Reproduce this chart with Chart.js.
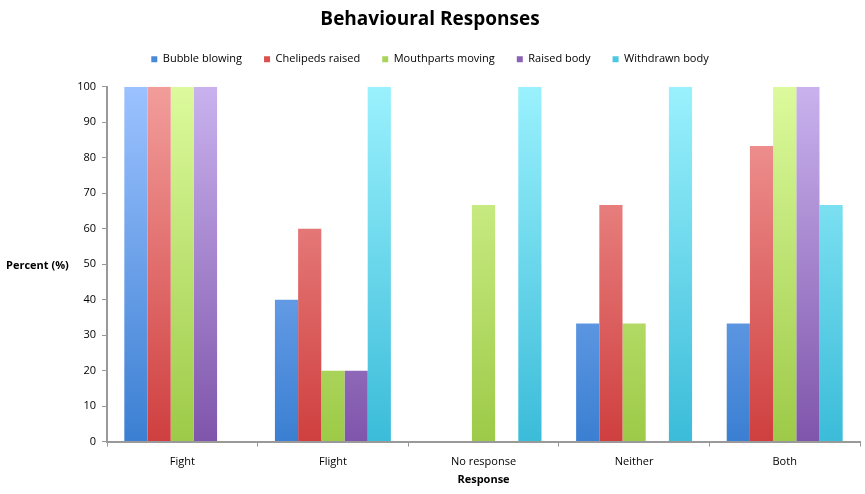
<!DOCTYPE html>
<html><head><meta charset="utf-8">
<script src="https://cdn.jsdelivr.net/npm/chart.js@4"></script>
<style>html,body{margin:0;padding:0;background:#fff}#wrap{width:865px;height:494px}</style>
</head><body><div id="wrap"><canvas id="c"></canvas></div>
<script>
const categories = ["Fight", "Flight", "No response", "Neither", "Both"];
const seriesNames = ["Bubble blowing", "Chelipeds raised", "Mouthparts moving", "Raised body", "Withdrawn body"];
const bubbleBlowing = [100, 40, 0, 33.3, 33.3];
const chelipedsRaised = [100, 60, 0, 66.7, 83.3];
const mouthpartsMoving = [100, 20, 66.7, 33.3, 100];
const raisedBody = [100, 20, 0, 0, 100];
const withdrawnBody = [0, 100, 100, 100, 66.7];
const yTicks = [0,10,20,30,40,50,60,70,80,90,100];

const palettes = [
  ["#3b7fd2", "#9cc2ff"],
  ["#cf3f3f", "#f29d9b"],
  ["#9dca48", "#dcfa9c"],
  ["#7f55ab", "#c9b2ee"],
  ["#3bbcd9", "#9af1fd"]
];
const legendCols = ["#4a88d8", "#dc5050", "#a8d45a", "#8a62b6", "#4cc8e2"];
const values = [bubbleBlowing, chelipedsRaised, mouthpartsMoving, raisedBody, withdrawnBody];

function grad(i){
  return (ctx) => {
    const ca = ctx.chart.chartArea;
    if (!ca) return palettes[i][0];
    const g = ctx.chart.ctx.createLinearGradient(0, ca.bottom, 0, ca.top);
    g.addColorStop(0, palettes[i][0]);
    g.addColorStop(1, palettes[i][1]);
    return g;
  };
}

const yLabelPlugin = {
  id: 'yLabel',
  afterDraw(chart){
    const {ctx, chartArea} = chart;
    ctx.save();
    ctx.font = 'bold 11px "Open Sans", sans-serif';
    ctx.fillStyle = '#000';
    ctx.textAlign = 'left';
    ctx.textBaseline = 'middle';
    ctx.fillText('Percent (%)', 6, (chartArea.top + chartArea.bottom)/2 + 2);
    ctx.restore();
  }
};

const legendSpace = {
  id: 'legendSpace',
  beforeInit(chart){
    const orig = chart.legend.fit;
    chart.legend.fit = function(){ orig.bind(chart.legend)(); this.height += 12; };
  }
};

new Chart(document.getElementById('c'), {
  type: 'bar',
  data: {
    labels: categories,
    datasets: seriesNames.map((n, i) => ({
      label: n,
      data: values[i],
      backgroundColor: grad(i),
      borderWidth: 0,
      barPercentage: 1.0,
      categoryPercentage: 0.77
    }))
  },
  options: {
    responsive: true,
    maintainAspectRatio: false,
    animation: false,
    layout: { padding: { left: 0, right: 5, top: 4, bottom: 8 } },
    plugins: {
      title: {
        display: true, text: 'Behavioural Responses', color: '#000',
        font: { family: '"Open Sans", sans-serif', size: 19, weight: 'bold' },
        padding: { top: 4, bottom: 1 }
      },
      legend: {
        display: true, position: 'top',
        labels: {
          color: '#000', boxWidth: 6, boxHeight: 6, padding: 22,
          font: { family: '"Open Sans", sans-serif', size: 11 },
          generateLabels(chart){
            return chart.data.datasets.map((d, i) => ({
              text: d.label, fillStyle: legendCols[i], strokeStyle: legendCols[i], lineWidth: 0, datasetIndex: i, hidden: false
            }));
          }
        }
      },
      tooltip: { enabled: false }
    },
    scales: {
      x: {
        grid: { display: true, drawOnChartArea: false, drawTicks: true, tickLength: 5, color: '#999', offset: true },
        border: { display: true, color: '#999', width: 2 },
        ticks: { color: '#000', font: { family: '"Open Sans", sans-serif', size: 11 }, padding: 9 },
        title: { display: true, text: 'Response', color: '#000', font: { family: '"Open Sans", sans-serif', size: 11, weight: 'bold' }, padding: { top: -5, bottom: 0 } }
      },
      y: {
        min: 0, max: 100,
        afterBuildTicks(scale){ scale.ticks = yTicks.map(v => ({ value: v })); },
        afterFit(scale){ scale.width = 107; },
        grid: { display: true, drawOnChartArea: false, drawTicks: true, tickLength: 5, color: '#999' },
        border: { display: true, color: '#999', width: 2 },
        ticks: { color: '#000', font: { family: '"Open Sans", sans-serif', size: 11 }, padding: 6 }
      }
    }
  },
  plugins: [yLabelPlugin, legendSpace]
});
</script></body></html>
